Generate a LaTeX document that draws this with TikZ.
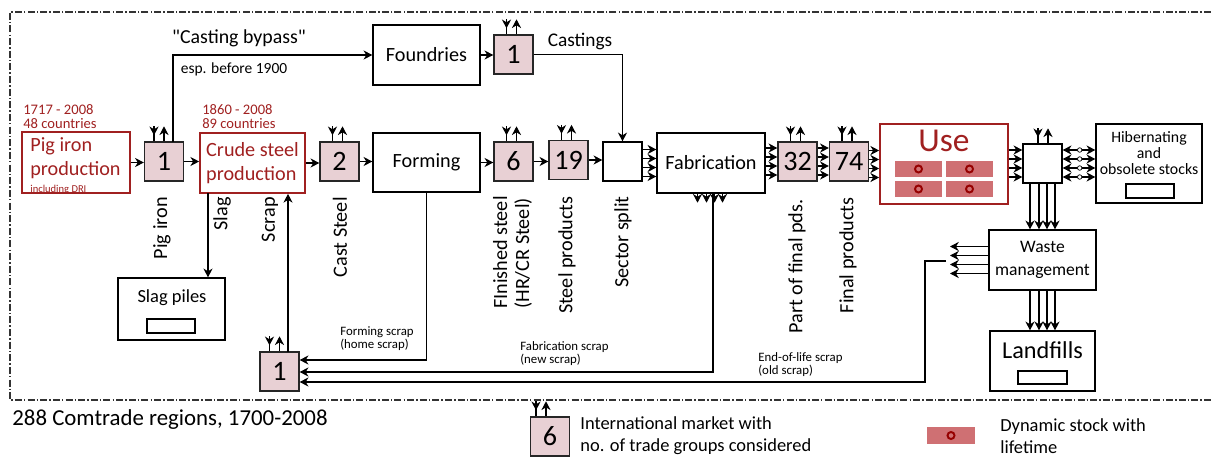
\documentclass[tikz,border=0pt]{standalone}
\usepackage{fontspec}
\setmainfont{Carlito}
\usetikzlibrary{shapes,arrows,arrows.meta,calc}

\definecolor{mktpink}{RGB}{232,208,212}
\definecolor{procred}{RGB}{160,32,32}
\definecolor{stockred}{RGB}{207,112,115}
\definecolor{stockdark}{RGB}{150,0,0}

\begin{document}
\begin{tikzpicture}[x=0.02cm,y=-0.02cm,>={Stealth[length=5pt,width=5.2pt,inset=1.6pt]},
	box/.style={draw,thick,inner sep=1pt,align=center,font=\fontsize{11.5}{13.7}\selectfont},
	redbox/.style={draw=procred,line width=1pt,text=procred,inner sep=1pt,align=left,font=\fontsize{11.5}{13.7}\selectfont},
	mkt/.style={draw=black!85,thick,fill=mktpink,minimum size=0.78cm,inner sep=0pt,font=\fontsize{16}{16}\selectfont},
	hub/.style={draw,thick,fill=white,minimum size=0.78cm,inner sep=0pt},
	flow/.style={semithick,->},
	rot/.style={rotate=90,anchor=east,inner sep=0pt,align=left,font=\fontsize{11.5}{12.5}\selectfont},
	small/.style={anchor=north west,inner sep=0pt,align=left,font=\fontsize{7.3}{7.8}\selectfont},
	frame/.style={semithick,black!80,dash pattern=on 4pt off 1.2pt on 0.8pt off 1.2pt}]
		\useasboundingbox (0,0) rectangle (1211,457);
		\draw[frame] (1211,12) -- (10,12) -- (10,400) -- (1211,400);
		% processes
		\node[redbox,minimum width=2.16cm,minimum height=1.22cm] (pig) at (76,162.5) {};
		\node[anchor=west,inner sep=0pt,align=left,text=procred,font=\fontsize{11.5}{13.7}\selectfont] (pigtxt) at (30,166) {Pig iron\\production\\[-4pt]{\fontsize{6}{6}\selectfont including DRI}};
		\node[redbox,minimum width=2.1cm,minimum height=1.2cm] (crude) at (252.5,163) {Crude steel\\production};
		\node[box,minimum width=2.14cm,minimum height=1.2cm] (foundries) at (426.5,55) {Foundries};
		\node[box,minimum width=2.14cm,minimum height=1.18cm] (forming) at (426.5,162.5) {Forming};
		\node[box,minimum width=2.16cm,minimum height=1.2cm] (fab) at (711,163) {Fabrication};
		\node[redbox,minimum width=2.56cm,minimum height=1.6cm] (use) at (944,164) {};
		\node[box,minimum width=2.12cm,minimum height=1.58cm] (hib) at (1149,163.5) {};
		\node[align=center,inner sep=0pt,font=\fontsize{9}{9.2}\selectfont] (hibtxt) at (1149,153) {Hibernating\\and\\obsolete stocks};
		\node[box,minimum width=2.14cm,minimum height=1.2cm,font=\fontsize{10}{13}\selectfont] (waste) at (1042.5,260) {Waste\\management};
		\node[box,minimum width=2.1cm,minimum height=1.2cm] (land) at (1042.5,361) {};
		\node[box,minimum width=2.14cm,minimum height=1.24cm] (slag) at (171.5,309) {};
		% markets
		\node[mkt] (mpig) at (164,161.5) {1};
		\node[mkt] (mcast) at (339.5,161.5) {2};
		\node[mkt] (mfound) at (513.5,54.5) {1};
		\node[mkt] (mfin) at (513.5,161.5) {6};
		\node[mkt] (msteel) at (568.5,160) {19};
		\node[mkt] (m32) at (797.5,161.5) {32};
		\node[mkt] (m74) at (849,161.5) {74};
		\node[mkt] (mscrap) at (279.5,371.5) {1};
		\node[hub] (split) at (622.5,161.5) {};
		\node[hub] (dist) at (1042.5,163.5) {};
		% texts in boxes
		\node[text=procred,font=\fontsize{19}{19}\selectfont] (usetxt) at (944,141) {Use};
		\node[font=\fontsize{10.5}{12}\selectfont] (slagtxt) at (172,298) {Slag piles};
		\node[font=\fontsize{13.8}{14}\selectfont] (landtxt) at (1042.5,350) {Landfills};
		\foreach \x / \y in {895/161,946/161,895/181,946/181} { \fill[stockred] (\x,\y) rectangle +(47,16); \draw[stockdark,line width=1.1pt] (\x+23.5,\y+8) circle[radius=0.07cm];}
		\draw[thick] (147,319) rectangle (195,333);
		\draw[thick] (1126,184) rectangle (1174,198);
		\draw[thick] (1018,371) rectangle (1067,384);
		% flows
		\foreach \a / \b in {pig/mpig,mpig/crude,crude/mcast,mcast/forming,forming/mfin,mfin/msteel,msteel/split,foundries/mfound} { \draw[flow] (\a.east) -- (\a.east -| \b.west);}
		\foreach \a / \b in {split/fab,fab/m32,m32/m74,m74/use,use/dist} { \foreach \d in {-13.5,-4.5,4.5,13.5} { \draw[flow] ($(\a.east |- \b.west)+(0,\d)$) -- ($(\b.west)+(0,\d)$);}}
		\foreach \d in {-13.5,-4.5,4.5,13.5} {
			\draw[semithick,<->] ($(dist.east)+(0,\d)$) -- ($(dist.east -| hib.west)+(0,\d)$);
			\draw[fill=white,thin] ($(dist.east)+(17,\d)$) circle[radius=0.045cm];}
		\foreach \d in {-12.5,-3.5,4.5,12.5} {
			\draw[flow] ($(dist.south)+(\d,0)$) -- ($(waste.north)+(\d,0)$);
			\draw[flow] ($(waste.south)+(\d,0)$) -- ($(land.north)+(\d,0)$);
			\draw[flow] ($(fab.south)+(\d-1,0)$) -- +(0,9);}
		\coordinate (bypass) at (173,142);
		\coordinate (slagout) at (208,193);
		\coordinate (scrapin) at (288,352);
		\coordinate (eol) at (950,260);
		\draw[flow] (bypass) |- (foundries.west);
		\draw[flow] (mfound.east) -| (split.north);
		\draw[flow] (slagout) -- (slagout |- slag.north);
		\draw[flow] (scrapin) -- (scrapin |- crude.south);
		\draw[flow] (forming.south) |- ($(mscrap.east)+(0,-11.5)$);
		\draw[flow] ($(fab.south)+(2,0)$) |- ($(mscrap.east)+(0,0.5)$);
		\foreach \d in {-13.5,-4.5,4.5,13.5} { \draw[flow] ($(waste.west)+(0,\d)$) -- ($(eol)+(0,\d)$);}
		\draw[flow] ($(eol)+(-4,1)$) -- ++(-21,0) |- ($(mscrap.east)+(0,10.5)$);
		% legend market
		\node[mkt] (mleg) at (550,436.5) {6};
		\node[anchor=west,inner sep=0pt,align=left,font=\fontsize{10.5}{12.5}\selectfont] (legmkt) at (580,436) {International market with\\no. of trade groups considered};
		\fill[stockred] (927,427) rectangle (975,444);
		\draw[stockdark,line width=1.1pt] (951,435.5) circle[radius=0.07cm];
		\node[anchor=west,inner sep=0pt,align=left,font=\fontsize{10.5}{12.5}\selectfont] (legstock) at (1000,436) {Dynamic stock with\\lifetime};
		% trade arrows
		\foreach \m / \s in {mpig/-3,mcast/0,mfound/0,mfin/0,msteel/0,m32/0,m74/0,mscrap/-3,dist/2.5,mleg/-7} {
			\draw[semithick] ($(\m.north)+(\s-7,0)$) -- +(0,-14);
			\draw[flow] ($(\m.north)+(\s-7,-15)$) -- +(0,9);
			\draw[flow] ($(\m.north)+(\s+3,0)$) -- +(0,-15);}
		% labels
		\node[anchor=south west,inner sep=0pt,align=left,text=procred,font=\fontsize{8.3}{8}\selectfont] (pigyears) at (23,129) {1717 - 2008\\48 countries};
		\node[anchor=south west,inner sep=0pt,align=left,text=procred,font=\fontsize{8.3}{8}\selectfont] (crudeyears) at (202,129) {1860 - 2008\\89 countries};
		\node[font=\fontsize{11.3}{12}\selectfont] (bypasslab) at (239,38) {\textquotedbl Casting bypass\textquotedbl};
		\node[font=\fontsize{8.8}{10}\selectfont] (bypassnote) at (234,69) {esp. before 1900};
		\node[font=\fontsize{11}{12}\selectfont] (castlab) at (580,41) {Castings};
		\node[rot] (piglab) at (162,197) {Pig iron};
		\node[rot] (slaglab) at (222,197) {Slag};
		\node[rot] (scraplab) at (270,197) {Scrap};
		\node[rot] (cststeel) at (340,197) {Cast Steel};
		\node[rot] (finlab) at (512.5,196) {FInished steel\\(HR/CR Steel)};
		\node[rot] (prodlab) at (567,196) {Steel products};
		\node[rot] (splitlab) at (623,196) {Sector split};
		\node[rot] (partlab) at (797,199) {Part of final pds.};
		\node[rot] (finallab) at (848,197) {Final products};
		\node[small] (formscrap) at (340,326) {Forming scrap\\(home scrap)};
		\node[small] (fabscrap) at (520,341) {Fabrication scrap\\(new scrap)};
		\node[small] (eolscrap) at (758,352) {End-of-life scrap\\(old scrap)};
		\node[anchor=west,inner sep=0pt,font=\fontsize{13}{14}\selectfont] (regions) at (12,420) {288 Comtrade regions, 1700-2008};
	\end{tikzpicture}
\end{document}
